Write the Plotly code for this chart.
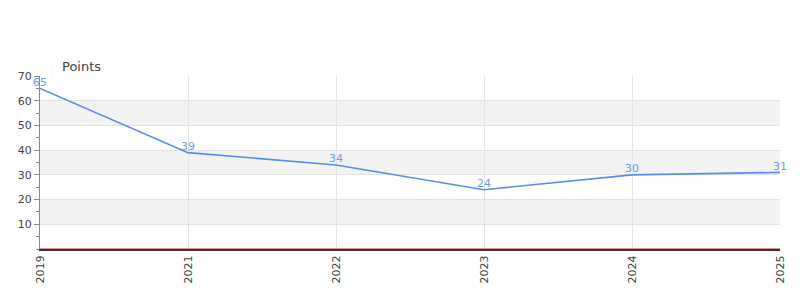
import plotly.graph_objects as go

years = ["2019", "2021", "2022", "2023", "2024", "2025"]
points = [65, 39, 34, 24, 30, 31]
y_ticks = [10, 20, 30, 40, 50, 60, 70]
bands = [(10, 20), (30, 40), (50, 60)]

fig = go.Figure()
fig.add_trace(go.Scatter(
    x=years, y=points, mode="lines+text",
    text=[str(v) for v in points], textposition="top center",
    textfont=dict(family="DejaVu Sans", size=11, color="#6f9be8"),
    line=dict(color="#5b8def", width=1.6),
    cliponaxis=False, showlegend=False, hoverinfo="skip",
))

shapes = []
for lo, hi in bands:
    shapes.append(dict(type="rect", xref="paper", yref="y", x0=0, x1=1, y0=lo, y1=hi,
                       fillcolor="#f3f3f3", line=dict(width=0), layer="below"))
shapes.append(dict(type="line", xref="paper", yref="y", x0=0, x1=1, y0=0, y1=0,
                   line=dict(color="#cc2222", width=1)))
fig.update_layout(shapes=shapes)

fig.update_layout(
    width=800, height=300,
    margin=dict(l=40, r=20, t=76, b=51),
    paper_bgcolor="white", plot_bgcolor="white",
    font=dict(family="DejaVu Sans", size=11, color="#444"),
    xaxis=dict(type="category", range=[0, 5], tickangle=-90,
               showgrid=True, gridcolor="#e6e6e6", gridwidth=1,
               showline=True, linecolor="#333", linewidth=2,
               ticks="", ticklen=3, tickfont=dict(size=11, color="#444"), fixedrange=True),
    yaxis=dict(range=[0, 70], tickvals=y_ticks, showgrid=True, gridcolor="#e3e3e3",
               zeroline=False, showline=True, linecolor="#888", linewidth=1,
               ticks="outside", ticklen=5, tickcolor="#888",
               minor=dict(ticks="outside", ticklen=3, tickcolor="#888", dtick=5, showgrid=False),
               tickfont=dict(size=11, color="#444")),
    annotations=[dict(text="Points", xref="paper", yref="paper", x=0.027, y=1.0,
                      xanchor="left", yanchor="bottom", showarrow=False,
                      font=dict(size=13, color="#444"))],
)

fig.write_html("out.html")
